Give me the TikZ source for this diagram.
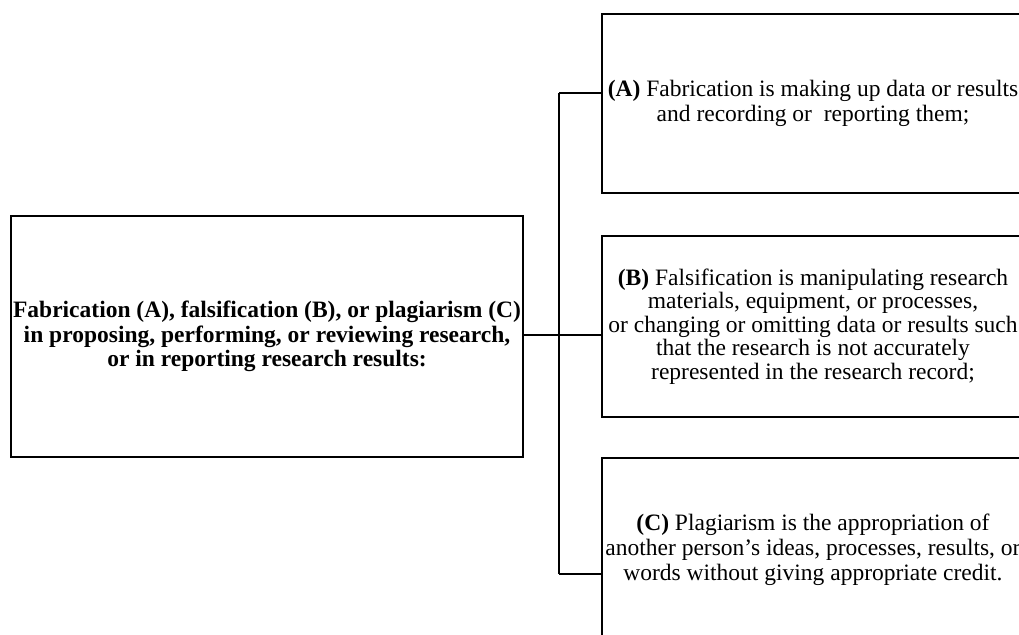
\documentclass[tikz,border=0pt]{standalone}
\usepackage{fontspec}
\setmainfont{Liberation Serif}
\begin{document}
\begin{tikzpicture}[x=1pt,y=-1pt,
  box/.style={draw, line width=2.2pt, inner sep=0pt, align=center},
  conn/.style={line width=1.8pt},
  rtext/.style={font=\fontsize{23.5}{23.5}\selectfont},
  rtextwide/.style={font=\fontsize{23.5}{25}\selectfont},
  ltext/.style={font=\bfseries\fontsize{23.5}{24.5}\selectfont}]
\useasboundingbox (0,0) rectangle (1019,634);
\clip (0,0) rectangle (1019,634);
\node[box, ltext, minimum width=512pt, minimum height=241pt] (L) at (267,336.5)
  {Fabrication (A), falsification (B), or plagiarism (C)\\
   in proposing, performing, or reviewing research,\\
   or in reporting research results:};
\node[box, rtextwide, minimum width=422pt, minimum height=179pt] (A) at (813,103.5)
  {\textbf{(A)} Fabrication is making up data or results\\
   and recording or~ reporting them;};
\node[box, rtext, minimum width=422pt, minimum height=181pt] (B) at (813,326.5)
  {\textbf{(B)} Falsification is manipulating research\\
   materials, equipment, or processes,\\
   or changing or omitting data or results such\\
   that the research is not accurately\\
   represented in the research record;};
\node[box, rtextwide, minimum width=422pt, minimum height=184pt] (C) at (813,550)
  {\textbf{(C)} Plagiarism is the appropriation of\\
   another person’s ideas, processes, results, or\\
   words without giving appropriate credit.};
\coordinate (J) at (559,335);
\coordinate (JA) at (559,93);
\coordinate (JC) at (559,574);
\draw[conn] (L.east |- J) -- (J);
\draw[conn] (JA) -- (JC);
\draw[conn] (JA) -- (A.west |- JA);
\draw[conn] (J) -- (B.west |- J);
\draw[conn] (JC) -- (C.west |- JC);
\end{tikzpicture}
\end{document}
